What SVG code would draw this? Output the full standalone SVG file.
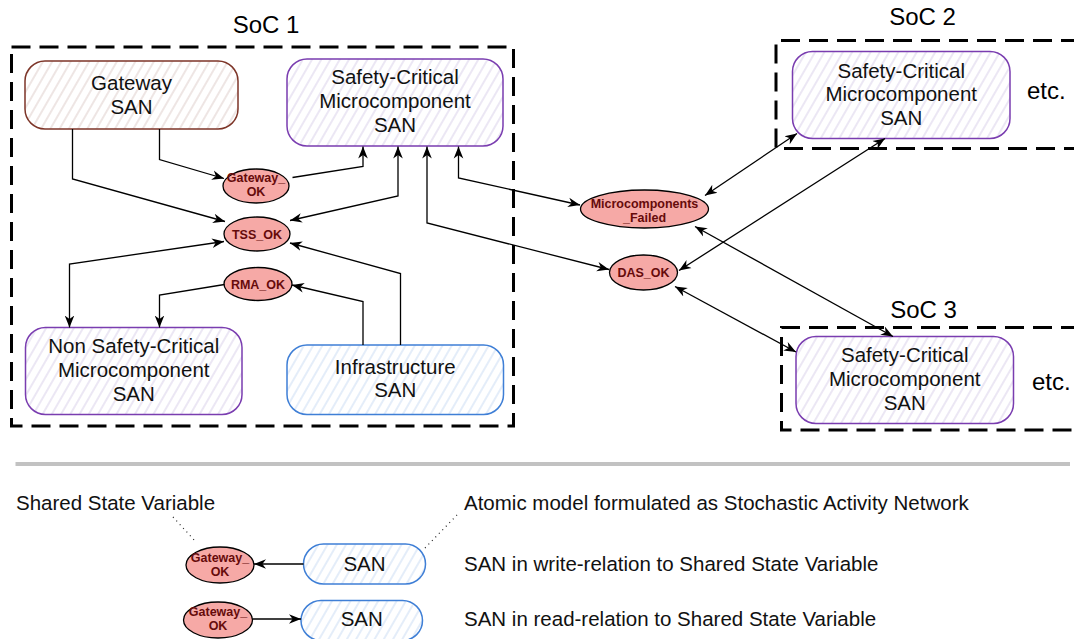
<svg xmlns="http://www.w3.org/2000/svg" width="1074" height="639" viewBox="0 0 1074 639">
  <defs>
    <style>
      .soc { fill: none; stroke: #000; stroke-width: 3; stroke-dasharray: 19 9; }
      .title { font-family: "Liberation Sans", Arial, sans-serif; font-size: 24px; fill: #000; }
      .lbl { font-family: "Liberation Sans", Arial, sans-serif; font-size: 20.5px; fill: #111; text-anchor: middle; }
      .legend { font-family: "Liberation Sans", Arial, sans-serif; font-size: 20.5px; fill: #111; }
      .var { fill: #f6a9a6; stroke: #000; stroke-width: 1.3; }
      .vtxt { font-family: "Liberation Sans", Arial, sans-serif; font-size: 12.5px; font-weight: bold; fill: #660b0b; text-anchor: middle; }
      .san-brown { fill: url(#hatchBrown); stroke: #7d3528; stroke-width: 1.5; }
      .san-purple { fill: url(#hatchPurple); stroke: #7a3db0; stroke-width: 1.5; }
      .san-blue { fill: url(#hatchBlue); stroke: #3f7fd6; stroke-width: 1.5; }
      .edge { fill: none; stroke: #000; stroke-width: 1.3; }
      .dot { fill: none; stroke: #222; stroke-width: 1.2; stroke-dasharray: 1 4; }
    </style>
    <pattern id="hatchBrown" width="8" height="8" patternUnits="userSpaceOnUse" patternTransform="rotate(30)">
      <rect width="8" height="8" fill="#fff"/>
      <line x1="4" y1="0" x2="4" y2="8" stroke="#e3d5d3" stroke-width="1.2"/>
    </pattern>
    <pattern id="hatchPurple" width="8" height="8" patternUnits="userSpaceOnUse" patternTransform="rotate(30)">
      <rect width="8" height="8" fill="#fff"/>
      <line x1="4" y1="0" x2="4" y2="8" stroke="#dfd8ee" stroke-width="1.2"/>
    </pattern>
    <pattern id="hatchBlue" width="8" height="8" patternUnits="userSpaceOnUse" patternTransform="rotate(30)">
      <rect width="8" height="8" fill="#fff"/>
      <line x1="4" y1="0" x2="4" y2="8" stroke="#d2e2f6" stroke-width="1.2"/>
    </pattern>
    <marker id="arr" viewBox="0 0 10 10" refX="10" refY="5" markerWidth="12" markerHeight="12" markerUnits="userSpaceOnUse" orient="auto-start-reverse">
      <path d="M0,1 L10,5 L0,9 L3,5 z" fill="#000"/>
    </marker>
  </defs>

  <rect width="1074" height="639" fill="#fff"/>

  <!-- system-of-components boundaries -->
  <g id="soc1">
    <rect class="soc" x="11.5" y="47" width="502" height="379"/>
    <text class="title" x="266" y="33" text-anchor="middle">SoC 1</text>
  </g>
  <g id="soc2">
    <path class="soc" d="M1080,40.5 H776 V148.5 H1080"/>
    <text class="title" x="922.5" y="25" text-anchor="middle">SoC 2</text>
    <text class="title" x="1027" y="99">etc.</text>
  </g>
  <g id="soc3">
    <path class="soc" d="M1080,327.5 H781.5 V430 H1080"/>
    <text class="title" x="923.5" y="318" text-anchor="middle">SoC 3</text>
    <text class="title" x="1032" y="390">etc.</text>
  </g>

  <!-- SAN nodes -->
  <g id="gateway-san">
    <rect class="san-brown" x="25" y="61" width="213" height="68" rx="20"/>
    <text class="lbl" x="131.5" y="90">Gateway</text>
    <text class="lbl" x="131.5" y="113.5">SAN</text>
  </g>
  <g id="sc-san-1">
    <rect class="san-purple" x="287" y="59" width="216" height="87" rx="20"/>
    <text class="lbl" x="395" y="83.5">Safety-Critical</text>
    <text class="lbl" x="395" y="108">Microcomponent</text>
    <text class="lbl" x="395" y="132">SAN</text>
  </g>
  <g id="nsc-san">
    <rect class="san-purple" x="25.5" y="327.5" width="216.5" height="87" rx="20"/>
    <text class="lbl" x="133.75" y="353">Non Safety-Critical</text>
    <text class="lbl" x="133.75" y="377">Microcomponent</text>
    <text class="lbl" x="133.75" y="400.5">SAN</text>
  </g>
  <g id="infra-san">
    <rect class="san-blue" x="287" y="345" width="216.5" height="69.5" rx="20"/>
    <text class="lbl" x="395.25" y="373.5">Infrastructure</text>
    <text class="lbl" x="395.25" y="397">SAN</text>
  </g>
  <g id="sc-san-2">
    <rect class="san-purple" x="792.5" y="51.5" width="217.5" height="87" rx="20"/>
    <text class="lbl" x="901.25" y="77.5">Safety-Critical</text>
    <text class="lbl" x="901.25" y="101">Microcomponent</text>
    <text class="lbl" x="901.25" y="125">SAN</text>
  </g>
  <g id="sc-san-3">
    <rect class="san-purple" x="796" y="336.5" width="217.5" height="87" rx="20"/>
    <text class="lbl" x="904.75" y="362">Safety-Critical</text>
    <text class="lbl" x="904.75" y="385.5">Microcomponent</text>
    <text class="lbl" x="904.75" y="410">SAN</text>
  </g>

  <!-- shared state variables -->
  <g id="gateway-ok">
    <ellipse class="var" cx="256" cy="186" rx="33" ry="17"/>
    <text class="vtxt" x="256" y="182">Gateway_</text>
    <text class="vtxt" x="256" y="196">OK</text>
  </g>
  <g id="tss-ok">
    <ellipse class="var" cx="257" cy="234" rx="33" ry="17"/>
    <text class="vtxt" x="257" y="238.5">TSS_OK</text>
  </g>
  <g id="rma-ok">
    <ellipse class="var" cx="258" cy="284" rx="34" ry="16.5"/>
    <text class="vtxt" x="258" y="288.5">RMA_OK</text>
  </g>
  <g id="microcomponents-failed">
    <ellipse class="var" cx="644.5" cy="209" rx="64" ry="19"/>
    <text class="vtxt" x="644.5" y="207.5">Microcomponents</text>
    <text class="vtxt" x="644.5" y="221.5">_Failed</text>
  </g>
  <g id="das-ok">
    <ellipse class="var" cx="643.5" cy="272.5" rx="34" ry="17.5"/>
    <text class="vtxt" x="643.5" y="277">DAS_OK</text>
  </g>

  <!-- read / write relations -->
  <g id="connectors">
    <path class="edge" d="M72.5,129 V179 L225,221.5" marker-end="url(#arr)"/>
    <path class="edge" d="M159.5,129 V159.5 L224,178.5" marker-end="url(#arr)"/>
    <path class="edge" d="M292.5,177.5 L363,166.5 V146.5" marker-end="url(#arr)"/>
    <path class="edge" d="M398,146.5 V196 L290,220.5" marker-start="url(#arr)" marker-end="url(#arr)"/>
    <path class="edge" d="M427,146.5 V223 L609,269.5" marker-start="url(#arr)" marker-end="url(#arr)"/>
    <path class="edge" d="M458.5,146.5 V178 L580,205" marker-start="url(#arr)" marker-end="url(#arr)"/>
    <path class="edge" d="M705,195.5 L797,133.5" marker-start="url(#arr)" marker-end="url(#arr)"/>
    <path class="edge" d="M679,270.5 L885,138.5" marker-start="url(#arr)" marker-end="url(#arr)"/>
    <path class="edge" d="M695,226.5 L893,336.5" marker-start="url(#arr)" marker-end="url(#arr)"/>
    <path class="edge" d="M675,286.5 L796,352" marker-start="url(#arr)" marker-end="url(#arr)"/>
    <path class="edge" d="M224,241.5 L69.5,264 V327.5" marker-start="url(#arr)" marker-end="url(#arr)"/>
    <path class="edge" d="M224.5,284.5 L159.5,295 V327.5" marker-end="url(#arr)"/>
    <path class="edge" d="M363,345 V301.5 L292,285" marker-end="url(#arr)"/>
    <path class="edge" d="M400.5,345 V273.5 L290,243" marker-end="url(#arr)"/>
  </g>

  <!-- legend -->
  <g id="legend">
    <line x1="15.5" y1="464" x2="1070" y2="464" stroke="#c2c2c2" stroke-width="4"/>
    <text class="legend" x="16" y="510">Shared State Variable</text>
    <text class="legend" x="464" y="510">Atomic model formulated as Stochastic Activity Network</text>
    <text class="legend" x="464" y="570.5">SAN in write-relation to Shared State Variable</text>
    <text class="legend" x="464" y="626">SAN in read-relation to Shared State Variable</text>
    <path class="dot" d="M173,517 L196,542"/>
    <path class="dot" d="M425,548 L457,515"/>
  </g>
  <g id="legend-var-write">
    <ellipse class="var" cx="220" cy="565" rx="34" ry="18"/>
    <text class="vtxt" x="220" y="562">Gateway_</text>
    <text class="vtxt" x="220" y="576">OK</text>
  </g>
  <g id="legend-san-write">
    <rect class="san-blue" x="303.5" y="544" width="122" height="40" rx="20"/>
    <text class="lbl" x="364.5" y="571">SAN</text>
  </g>
  <g id="legend-var-read">
    <ellipse class="var" cx="218" cy="620" rx="34.5" ry="18"/>
    <text class="vtxt" x="218" y="616">Gateway_</text>
    <text class="vtxt" x="218" y="630">OK</text>
  </g>
  <g id="legend-san-read">
    <rect class="san-blue" x="301" y="600.5" width="121.5" height="40" rx="20"/>
    <text class="lbl" x="361.75" y="626">SAN</text>
  </g>
  <g id="legend-connectors">
    <path class="edge" d="M303.5,564 H254" marker-end="url(#arr)"/>
    <path class="edge" d="M252.5,619 H301" marker-end="url(#arr)"/>
  </g>
</svg>
